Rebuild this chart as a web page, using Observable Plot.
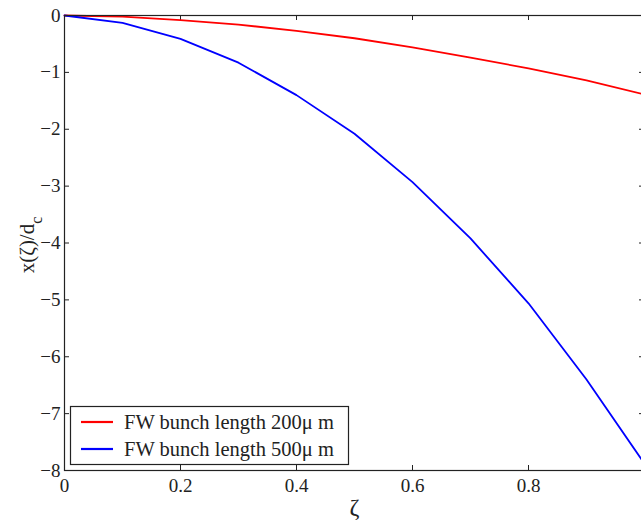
<!DOCTYPE html>
<html><head><meta charset="utf-8">
<script src="https://cdn.jsdelivr.net/npm/d3@7"></script>
<script src="https://cdn.jsdelivr.net/npm/@observablehq/plot@0.6"></script>
<style>
html,body{margin:0;padding:0;background:#fff;overflow:hidden}
</style></head><body><div id="chart"></div>
<script>
const zeta = [0, 0.1, 0.2, 0.3, 0.4, 0.5, 0.6, 0.7, 0.8, 0.9, 1.0];
const fw200 = [0, -0.02, -0.08, -0.16, -0.27, -0.40, -0.56, -0.74, -0.93, -1.14, -1.39];
const fw500 = [0, -0.13, -0.41, -0.83, -1.40, -2.08, -2.93, -3.92, -5.06, -6.40, -7.88];
const seriesNames = ["FW bunch length 200\u03bc m", "FW bunch length 500\u03bc m"];
const seriesColors = ["#ff0000", "#0000ff"];
const xTicks = [0, 0.2, 0.4, 0.6, 0.8, 1];
const xLabels = [0, 0.2, 0.4, 0.6, 0.8];
const yTicks = [0, -1, -2, -3, -4, -5, -6, -7, -8];
const xTitle = "\u03b6";
const yTitle = "x(\u03b6)/d";
const yTitleSub = "c";

const data = zeta.flatMap((z, i) => [
  {z, v: fw200[i], s: seriesNames[0]},
  {z, v: fw500[i], s: seriesNames[1]}
]);

const W = 641, H = 525, mL = 64, mR = -3, mT = 15, mB = 55;
const pw = W - mL - mR, ph = H - mT - mB, tk = 5;
const ink = "#222";
const font = "'Liberation Serif', 'Times New Roman', serif";

const plot = Plot.plot({
  width: W, height: H,
  marginLeft: mL, marginRight: mR, marginTop: mT, marginBottom: mB,
  style: {fontFamily: font, fontSize: "19px", color: ink, background: "#fff"},
  x: {domain: [0, 1]},
  y: {domain: [-8, 0]},
  color: {domain: seriesNames, range: seriesColors},
  marks: [
    Plot.axisX({ticks: xLabels, tickSize: 0, tickPadding: 8, label: null, tickFormat: d => String(d),
      fontFamily: font, fontSize: 19, fill: ink}),
    Plot.axisY({ticks: yTicks, tickSize: 0, tickPadding: 4, label: null,
      fontFamily: font, fontSize: 19, fill: ink}),
    Plot.tickX(xTicks, {x: d => d, insetTop: ph - tk, stroke: ink}),
    Plot.tickX(xTicks, {x: d => d, insetBottom: ph - tk, stroke: ink}),
    Plot.tickY(yTicks, {y: d => d, insetRight: pw - tk, stroke: ink}),
    Plot.tickY(yTicks, {y: d => d, insetLeft: pw - tk, stroke: ink}),
    Plot.line(data, {x: "z", y: "v", stroke: "s", strokeWidth: 1.8}),
    Plot.frame({stroke: ink, strokeWidth: 1.2}),
    Plot.text([xTitle], {frameAnchor: "bottom", dy: 44, fontSize: 24, fontFamily: font, fill: ink}),
    Plot.text([yTitle], {frameAnchor: "left", textAnchor: "middle", lineAnchor: "middle", dx: -37, dy: 2,
      rotate: -90, fontSize: 21, fontFamily: font, fill: ink})
  ]
});
document.getElementById("chart").appendChild(plot);

// subscript on y title
const svg = d3.select(plot);
svg.selectAll("text").filter(function() { return this.textContent === yTitle; })
  .append("tspan").attr("baseline-shift", "-50%").attr("font-size", 16).text(yTitleSub);

// legend box
const lg = svg.append("g").attr("font-family", font).attr("font-size", 20.5).attr("fill", ink)
  .attr("text-anchor", "start");
lg.append("rect").attr("x", 70.5).attr("y", 406.5).attr("width", 278).attr("height", 58)
  .attr("fill", "#fff").attr("stroke", ink).attr("stroke-width", 1.2);
seriesNames.forEach((name, i) => {
  const cy = 422 + i * 27;
  lg.append("line").attr("x1", 81).attr("x2", 113).attr("y1", cy).attr("y2", cy)
    .attr("stroke", seriesColors[i]).attr("stroke-width", 2.2);
  lg.append("text").attr("x", 124).attr("y", cy).attr("dy", "0.35em")
    .attr("text-anchor", "start").text(name);
});
</script></body></html>
